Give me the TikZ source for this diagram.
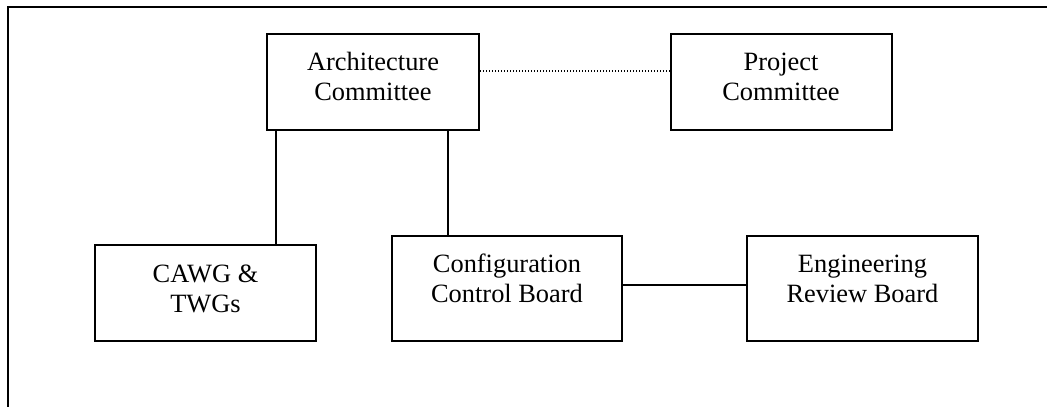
\documentclass[tikz,border=0pt]{standalone}
\usepackage{fontspec}
\setmainfont{Liberation Serif}
\usetikzlibrary{calc}
\newcommand{\twolines}[2]{\begin{tabular}[t]{@{}c@{}}#1\\#2\end{tabular}}
\begin{document}
\begin{tikzpicture}[x=1pt,y=-1pt,
  box/.style={draw=black,line width=2pt,inner sep=0pt,rectangle},
  lbl/.style={inner sep=0pt,anchor=base,font=\fontsize{26.4}{30}\selectfont},
  conn/.style={draw=black,line width=1.8pt},
  dots/.style={draw=black,line width=1.1pt,dash pattern=on 1.2pt off 1.8pt},
  frame/.style={draw=black,line width=2pt}]
\useasboundingbox (0,0) rectangle (1047,407);
% outer frame (top and left only)
\coordinate (fbl) at (8,408);
\coordinate (ftl) at (8,7);
\coordinate (ftr) at (1048,7);
\draw[frame] (fbl) -- (ftl) -- (ftr);
% boxes
\node[box,minimum width=212pt,minimum height=96pt] (ac) at (373,82) {};
\node[box,minimum width=221pt,minimum height=96pt] (pc) at (781,82) {};
\node[box,minimum width=221pt,minimum height=96pt] (cawg) at (205.5,293) {};
\node[box,minimum width=230pt,minimum height=105pt] (ccb) at (507,288.5) {};
\node[box,minimum width=231pt,minimum height=105pt] (erb) at (862.5,288.5) {};
% labels
\node[lbl] (acT) at ($(ac.north)+(0,37)$) {\twolines{Architecture}{Committee}};
\node[lbl] (pcT) at ($(pc.north)+(0,37)$) {\twolines{Project}{Committee}};
\node[lbl] (cawgT) at ($(cawg.north)+(0,38)$) {\twolines{CAWG \&}{TWGs}};
\node[lbl] (ccbT) at ($(ccb.north)+(0,37)$) {\twolines{Configuration}{Control Board}};
\node[lbl] (erbT) at ($(erb.north)+(0,37)$) {\twolines{Engineering}{Review Board}};
% connector end points on the box borders
\coordinate (a1) at ($(ac.south west)+(10,0)$);
\coordinate (c1) at (a1 |- cawg.north);
\coordinate (a2) at ($(ac.south west)+(182,0)$);
\coordinate (c2) at (a2 |- ccb.north);
\coordinate (d1) at ($(ac.north east)+(0,38)$);
\coordinate (d2) at (d1 -| pc.west);
\coordinate (e1) at ($(ccb.north east)+(0,50)$);
\coordinate (e2) at (e1 -| erb.west);
% connectors
\draw[conn] (a1) -- (c1);
\draw[conn] (a2) -- (c2);
\draw[dots] (d1) -- (d2);
\draw[conn] (e1) -- (e2);
\end{tikzpicture}
\end{document}
